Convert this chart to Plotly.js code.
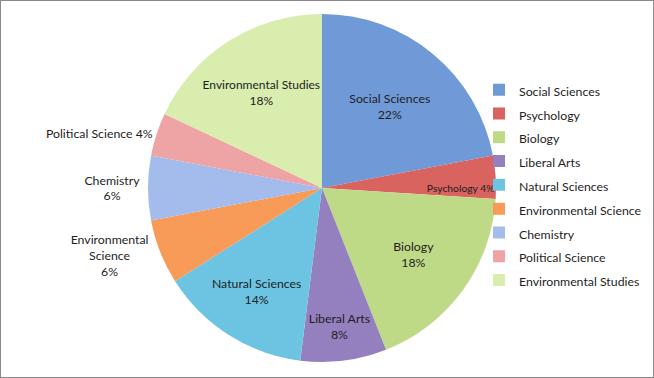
<!DOCTYPE html>
<html>
<head>
<meta charset="utf-8">
<script src="https://cdn.plot.ly/plotly-3.0.1.min.js"></script>
<style>
  html, body { margin: 0; padding: 0; background: #fff; }
  #chart { width: 654px; height: 378px; box-sizing: border-box; border: 1px solid #8a8a8a; }
</style>
</head>
<body>
<div id="chart"></div>
<script>
// ---- Data ----
const categories = ["Social Sciences", "Psychology", "Biology", "Liberal Arts", "Natural Sciences",
                    "Environmental Science", "Chemistry", "Political Science", "Environmental Studies"];
const values = [22, 4, 18, 8, 14, 6, 6, 4, 18];
const sliceNames = ["Social Sciences", "Psychology", "Biology", "Liberal Arts", "Natural Sciences",
                    "Environmental<br>Science", "Chemistry", "Political Science", "Environmental Studies"];
const oneLineLabels = ["Psychology", "Political Science"];
const outsideLabels = ["Environmental Science", "Chemistry", "Political Science"];

// ---- Styles ----
const colors = ["#7099D8", "#D8635F", "#BFDA86", "#9480BF", "#6CC4E2",
                "#F89A58", "#A3BCEB", "#EEA3A4", "#D8EDAE"];
const FONT = "Lato, 'Noto Sans', sans-serif";

const W = 652, H = 376;
const cx = 321, cy = 187, R = 174;

const trace = {
  type: "pie",
  labels: categories.map(c => '<span style="font-size:12.3px">' + c + '</span>'),
  values: values,
  text: sliceNames,
  sort: false,
  direction: "clockwise",
  rotation: 0,
  marker: { colors: colors, line: { width: 0 } },
  texttemplate: categories.map(c => oneLineLabels.includes(c) ? "%{text} %{percent:.0%}" : "%{text}<br>%{percent:.0%}"),
  textposition: categories.map(c => outsideLabels.includes(c) ? "outside" : "inside"),
  insidetextorientation: "horizontal",
  textfont: { family: FONT, size: 12.3, color: "#1e1e1e" },
  insidetextfont: { family: FONT, size: 12.3, color: "#1e1e1e" },
  outsidetextfont: { family: FONT, size: 12.3, color: "#1e1e1e" },
  automargin: false,
  hoverinfo: "none",
  domain: { x: [(cx - R) / W, (cx + R) / W], y: [(H - cy - R) / H, (H - cy + R) / H] }
};

const layout = {
  width: W, height: H,
  margin: { l: 0, r: 0, t: 0, b: 0 },
  paper_bgcolor: "#ffffff",
  font: { family: FONT, color: "#1e1e1e" },
  showlegend: true,
  legend: {
    x: (518 - 40) / W, xanchor: "left",
    y: 0.51, yanchor: "middle",
    font: { family: FONT, size: 16, color: "#1e1e1e" },
    bgcolor: "rgba(0,0,0,0)",
    traceorder: "normal"
  }
};

Plotly.newPlot("chart", [trace], layout, { staticPlot: true, displayModeBar: false });
</script>
</body>
</html>
